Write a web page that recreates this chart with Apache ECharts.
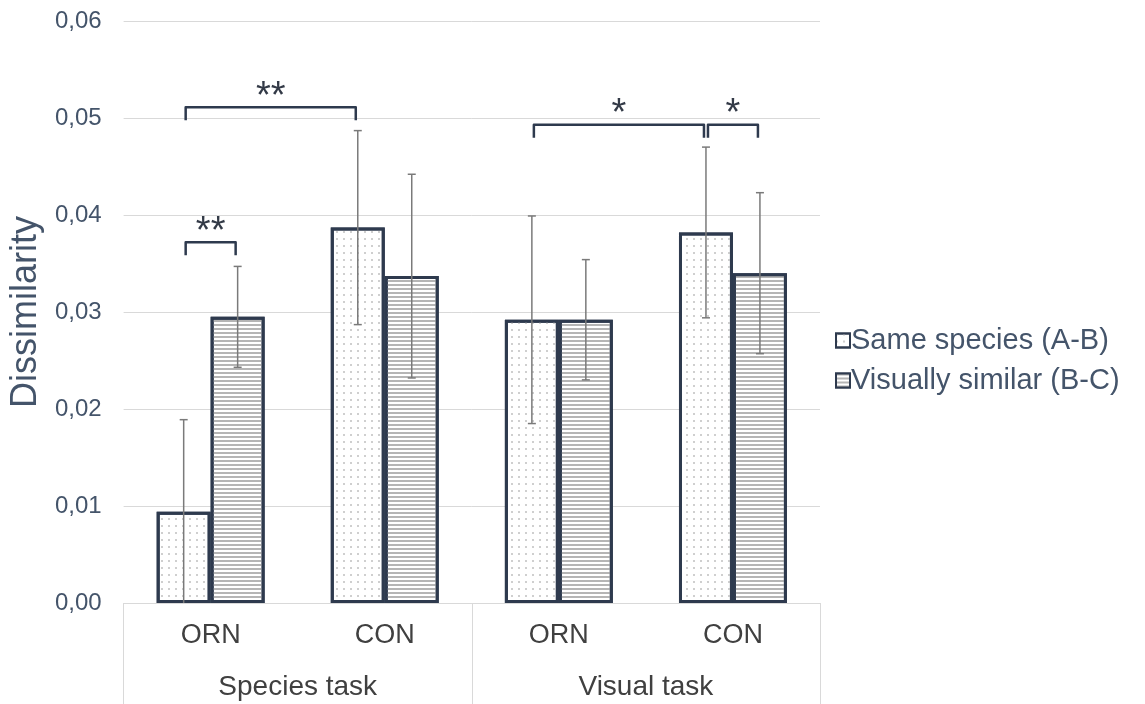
<!DOCTYPE html>
<html>
<head>
<meta charset="utf-8">
<script src="https://cdn.jsdelivr.net/npm/echarts@6/dist/echarts.min.js"></script>
<style>html,body{margin:0;padding:0;background:#fff}#c{width:1145px;height:704px}</style>
</head>
<body>
<div id="c"></div>
<script>
var categories = ['ORN', 'CON', 'ORN', 'CON'];
var groups = ['Species task', 'Visual task'];
var seriesNames = ['Same species (A-B)', 'Visually similar (B-C)'];
var sameValues = [0.0094, 0.0387, 0.0292, 0.0382];
var sameErr = [0.0095, 0.0100, 0.0107, 0.0088];
var visualValues = [0.0295, 0.0337, 0.0292, 0.0340];
var visualErr = [0.0052, 0.0105, 0.0062, 0.0083];
var yTicks = [0, 0.01, 0.02, 0.03, 0.04, 0.05, 0.06];
// brackets: [startCategory, startBar, endCategory, endBar, yValue, label]
var brackets = [
  [0, 0, 0, 1, 0.0372, '**'],
  [0, 0, 1, 0, 0.0511, '**'],
  [2, 0, 3, 0, 0.0493, '*'],
  [3, 0, 3, 1, 0.0493, '*']
];

var FONT = '"Liberation Sans", Arial, sans-serif';
var GAP = 0.38;
var DARK = '#2e3a4e';
var SLATE = '#44546a';

function barOffset(catW, barIdx) {
  var bw = catW * (1 - GAP) / 2;
  return barIdx === 0 ? -bw / 2 : bw / 2;
}

function errSeries(values, errs, barIdx) {
  return {
    type: 'custom',
    silent: true,
    z: 5,
    clip: true,
    data: values.map(function (v, i) { return [i, v - errs[i], v + errs[i]]; }),
    renderItem: function (params, api) {
      var catW = api.size([1, 0])[0];
      var lo = api.coord([api.value(0), Math.max(0, api.value(1))]);
      var hi = api.coord([api.value(0), api.value(2)]);
      var x = lo[0] + barOffset(catW, barIdx);
      var style = { stroke: '#7a7a7a', lineWidth: 1.5 };
      var children = [
        { type: 'line', shape: { x1: x, y1: lo[1], x2: x, y2: hi[1] }, style: style },
        { type: 'line', shape: { x1: x - 4, y1: hi[1], x2: x + 4, y2: hi[1] }, style: style }
      ];
      if (api.value(1) > 0) {
        children.push({ type: 'line', shape: { x1: x - 4, y1: lo[1], x2: x + 4, y2: lo[1] }, style: style });
      }
      return { type: 'group', children: children };
    }
  };
}

var dotDecal = {
  symbol: 'rect',
  symbolSize: 1,
  color: '#cfcfcf',
  dashArrayX: [1.2, 5],
  dashArrayY: [1.2, 5],
  rotation: 0
};
var lineDecal = {
  symbol: 'rect',
  symbolSize: 1,
  color: '#b5b5b5',
  dashArrayX: [1, 0],
  dashArrayY: [1.5, 1.5],
  rotation: 0
};

var chart = echarts.init(document.getElementById('c'), null, { renderer: 'canvas' });
chart.setOption({
  animation: false,
  backgroundColor: '#ffffff',
  textStyle: { fontFamily: FONT },
  grid: { left: 123, right: 325, top: 21, bottom: 101, containLabel: false },
  legend: {
    orient: 'vertical',
    left: 830,
    top: 321,
    itemWidth: 14,
    itemHeight: 14,
    itemGap: 11,
    icon: 'rect',
    textStyle: { fontSize: 29, color: SLATE, fontFamily: FONT, padding: [0, 0, 0, -4] },
    data: seriesNames
  },
  xAxis: [
    {
      type: 'category',
      data: categories,
      axisLine: { show: true, lineStyle: { color: '#d9d9d9', width: 1 } },
      axisTick: { show: false },
      axisLabel: { fontSize: 27, color: '#404040', margin: 19, fontFamily: FONT }
    },
    {
      type: 'category',
      data: groups,
      position: 'bottom',
      axisLine: { show: false },
      axisTick: { show: true, length: 101, lineStyle: { color: '#d9d9d9', width: 1 }, alignWithLabel: false },
      axisLabel: { fontSize: 28, color: '#404040', margin: 70, fontFamily: FONT },
      splitLine: { show: false }
    }
  ],
  yAxis: {
    type: 'value',
    min: 0,
    max: 0.06,
    interval: 0.01,
    name: 'Dissimilarity',
    nameLocation: 'middle',
    nameGap: 71,
    nameTextStyle: { fontSize: 36, color: SLATE, fontFamily: FONT },
    axisLine: { show: false },
    axisTick: { show: false },
    splitLine: { lineStyle: { color: '#d9d9d9', width: 1 } },
    axisLabel: {
      fontSize: 24, color: SLATE, margin: 22, fontFamily: FONT,
      formatter: function (v) {
        var t = yTicks.reduce(function (a, b) { return Math.abs(b - v) < Math.abs(a - v) ? b : a; });
        return t.toFixed(2).replace('.', ',');
      }
    }
  },
  series: [
    {
      name: seriesNames[0],
      type: 'bar',
      data: sameValues,
      barGap: '0%',
      barCategoryGap: '38%',
      itemStyle: { color: '#ffffff', borderColor: DARK, borderWidth: 3, decal: dotDecal }
    },
    {
      name: seriesNames[1],
      type: 'bar',
      data: visualValues,
      barGap: '0%',
      barCategoryGap: '38%',
      itemStyle: { color: '#ffffff', borderColor: DARK, borderWidth: 3, decal: lineDecal }
    },
    errSeries(sameValues, sameErr, 0),
    errSeries(visualValues, visualErr, 1),
    {
      type: 'custom',
      silent: true,
      z: 6,
      clip: false,
      data: brackets,
      renderItem: function (params, api) {
        var catW = api.size([1, 0])[0];
        var p1 = api.coord([api.value(0), api.value(4)]);
        var p2 = api.coord([api.value(2), api.value(4)]);
        var x1 = p1[0] + barOffset(catW, api.value(1)) + 2;
        var x2 = p2[0] + barOffset(catW, api.value(3)) - 2;
        var y = p1[1];
        var leg = 13;
        return {
          type: 'group',
          children: [
            {
              type: 'polyline',
              shape: { points: [[x1, y + leg], [x1, y], [x2, y], [x2, y + leg]] },
              style: { stroke: DARK, lineWidth: 2.5, fill: null, lineJoin: 'round', lineCap: 'butt' }
            },
            {
              type: 'text',
              style: {
                text: brackets[params.dataIndex][5],
                x: (x1 + x2) / 2,
                y: y - 10,
                align: 'center',
                verticalAlign: 'middle',
                fontSize: 38,
                fontFamily: FONT,
                fill: '#333a47'
              }
            }
          ]
        };
      }
    }
  ]
});
</script>
</body>
</html>
